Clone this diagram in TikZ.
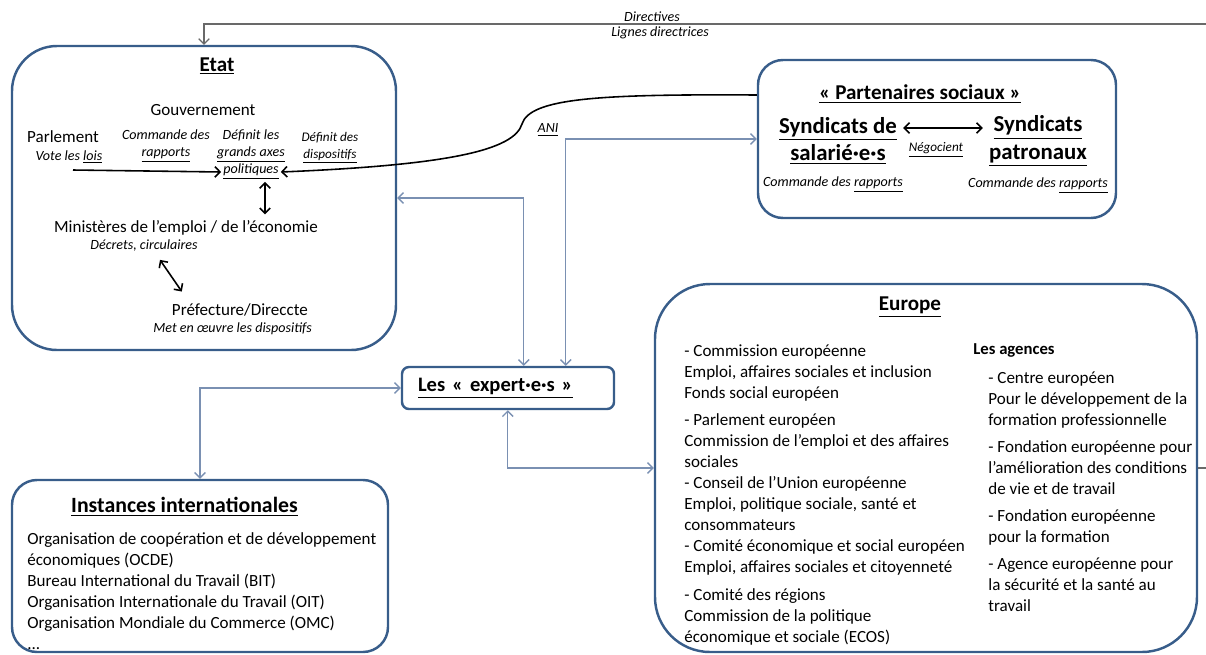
\documentclass[tikz,border=0pt]{standalone}
\usepackage{fontspec}
\setmainfont{Carlito}
\usetikzlibrary{arrows.meta,positioning,calc}
\definecolor{FrameBlue}{RGB}{56,93,138}
\definecolor{LinkBlue}{RGB}{122,144,178}
\definecolor{DirGrey}{RGB}{105,105,105}

\begin{document}
\begin{tikzpicture}[
  x=0.2mm, y=-0.2mm,
  font=\fontsize{9.7}{12}\selectfont,
  >={Straight Barb[length=3pt,width=6pt]},
  panel/.style={rectangle, draw=FrameBlue, line width=1.4pt, inner sep=0pt},
  heading/.style={font=\fontsize{12}{14}\selectfont\bfseries, align=center},
  note/.style={font=\fontsize{8}{10}\selectfont\itshape, align=center, inner sep=1pt},
  tinynote/.style={font=\fontsize{7.5}{9.5}\selectfont\itshape, align=center, inner sep=1pt},
  bodytext/.style={align=left, inner sep=0pt},
  blackarr/.style={line width=0.9pt, black},
  linkarr/.style={<->, LinkBlue, line width=0.8pt},
  dirline/.style={->, DirGrey, line width=0.7pt},
]
\useasboundingbox (0,0) rectangle (1206,654);

% panels
\node[panel, rounded corners=9mm, minimum width=76.8mm, minimum height=60.8mm] (etat) at (204,198) {};
\node[panel, rounded corners=5mm, minimum width=71.6mm, minimum height=31.6mm] (partenaires) at (937,139) {};
\node[panel, rounded corners=1.4mm, minimum height=8.4mm, text width=36mm, inner xsep=3.2mm, align=left,
  font=\fontsize{11.7}{13}\selectfont\bfseries] (experts) at (508,388) {\underline{Les «~expert·e·s~»}};
\node[panel, rounded corners=11mm, minimum width=108.4mm, minimum height=73.6mm] (europe) at (926,468) {};
\node[panel, rounded corners=5mm, minimum width=75.2mm, minimum height=34.4mm] (instances) at (200,566) {};

% Etat
\node[heading] (etattitle) at (217,66) {\underline{Etat}};
\node (gouvernement) at (203,110) {Gouvernement};
\node (parlement) at (63,137) {Parlement};
\node[note] (lois) at (69,157) {Vote les \underline{lois}};
\node[note] (cmdgouv) at (166,146) {Commande des\\\underline{rapports}};
\node[note] (defaxes) at (251,146) {Définit les\\\underline{grands axes}};
\node[note] (politiques) at (251,172) {\underline{politiques}};
\node[tinynote] (defdisp) at (330,148) {Définit des\\\underline{dispositifs}};
\node (ministeres) at (186,228) {Ministères de l’emploi / de l’économie};
\node[note] (decrets) at (144,246) {Décrets, circulaires};
\node[anchor=east] (prefecture) at (314,310) {Préfecture/Direccte};
\node[note, anchor=east] (oeuvre) at (314,329) {Met en œuvre les dispositifs};
\coordinate (parlstart) at (73,170);

% Partenaires sociaux
\node[heading] (partitle) at (920,94) {\underline{«~Partenaires sociaux~»}};
\node[heading, font=\fontsize{13}{15.5}\selectfont\bfseries] (synsal) at (838,141) {\underline{Syndicats de}\\\underline{salarié·e·s}};
\node[heading, font=\fontsize{13}{15.5}\selectfont\bfseries] (synpat) at (1038,141) {\underline{Syndicats}\\\underline{patronaux}};
\node[tinynote] (negocient) at (936,150) {\underline{Négocient}};
\node[note] (cmdsal) at (833,185) {Commande des \underline{rapports}};
\node[note] (cmdpat) at (1038,186) {Commande des \underline{rapports}};

% Europe
\node[heading] (eurotitle) at (910,307) {\underline{Europe}};
\node[bodytext, anchor=north west] (eurobodies) at (684,344) {%
  - Commission européenne\\Emploi, affaires sociales et inclusion\\Fonds social européen\\[3.4pt]
  - Parlement européen\\Commission de l’emploi et des affaires\\sociales\\
  - Conseil de l’Union européenne\\Emploi, politique sociale, santé et\\consommateurs\\
  - Comité économique et social européen\\Emploi, affaires sociales et citoyenneté\\[3.4pt]
  - Comité des régions\\Commission de la politique\\économique et sociale (ECOS)};
\node[bodytext, anchor=west, font=\fontsize{9.5}{12}\selectfont\bfseries] (agences) at (973,350) {Les agences};
\node[bodytext, anchor=north west] (agencelist) at (988,371) {%
  - Centre européen\\Pour le développement de la\\formation professionnelle\\[3.4pt]
  - Fondation européenne pour\\l’amélioration des conditions\\de vie et de travail\\[3.4pt]
  - Fondation européenne\\pour la formation\\[3.4pt]
  - Agence européenne pour\\la sécurité et la santé au\\travail};

% Instances internationales
\node[heading, anchor=west, font=\fontsize{12.4}{15}\selectfont\bfseries] (insttitle) at (65,507) {\underline{Instances internationales}};
\node[bodytext, anchor=north west] (instlist) at (27,532) {%
  Organisation de coopération et de développement\\économiques (OCDE)\\Bureau International du Travail (BIT)\\
  Organisation Internationale du Travail (OIT)\\Organisation Mondiale du Commerce (OMC)\\...};

% black arrows
\draw[blackarr, ->] (parlstart) -- (politiques.west);
\draw[blackarr, ->] ([yshift=8.8mm]partenaires.west) .. controls (600,94) and (530,98) .. (522,124)
  .. controls (514,150) and (450,165) .. (politiques.east);
\node[note] (ani) at (548,130) {\underline{ANI}};
\draw[blackarr, <->] ([xshift=2.8mm]politiques.south) -- ([xshift=2.8mm]politiques.south |- ministeres.north);
\draw[blackarr, <->] ($(decrets.south)+(16,6)$) -- ($(prefecture.north west)+(16,-6)$);
\draw[blackarr, <->] ([yshift=2.6mm]synsal.east) -- ([yshift=2.6mm]synpat.west);

% links to the experts
\draw[linkarr] (etat.east) -| ($(experts.north west)+(123,0)$);
\draw[linkarr] ($(experts.north west)+(165,0)$) |- (partenaires.west);
\draw[linkarr] (experts.west) -| (instances.north);
\draw[linkarr] ($(experts.south west)+(107,0)$) |- (europe.west);

% directives
\coordinate (dircorner) at (1215,24);
\draw[dirline] (europe.east) -| (dircorner) -| (etat.north);
\node[note] (directives) at (652,17) {Directives};
\node[note] (lignes) at (660,33) {Lignes directrices};
\end{tikzpicture}
\end{document}
